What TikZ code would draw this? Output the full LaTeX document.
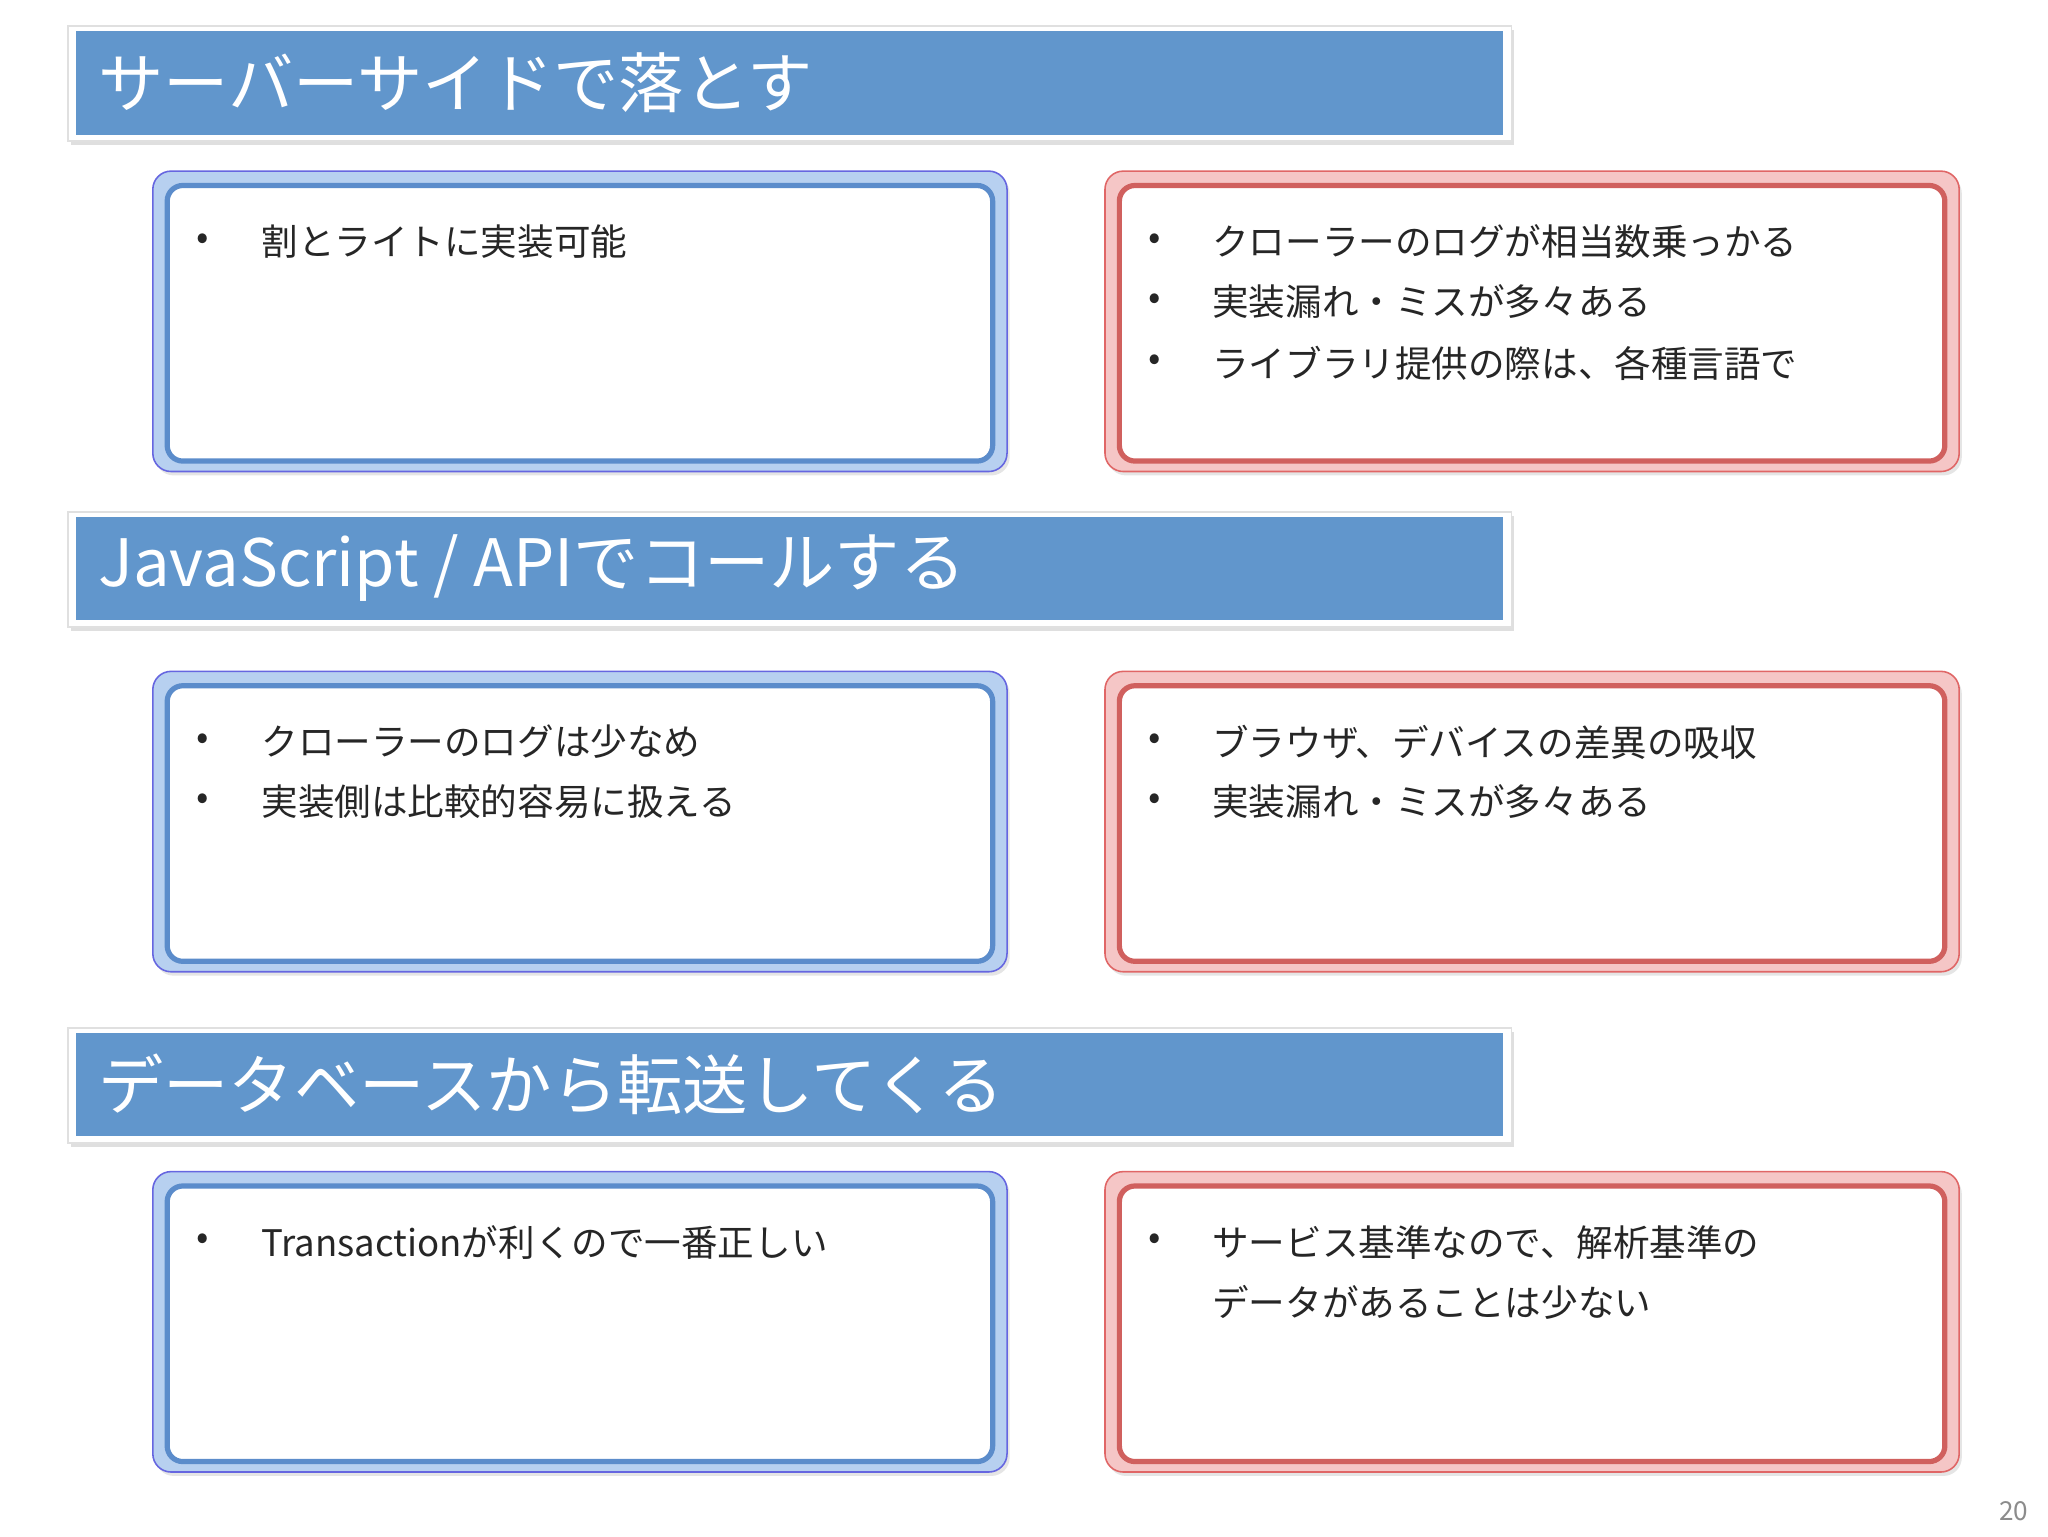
\documentclass[tikz,border=0pt]{standalone}
\usepackage{fontspec}
\setmainfont{Noto Sans CJK JP}
\usetikzlibrary{shadows}
\definecolor{hdr}{HTML}{6196CC}
\definecolor{bblue}{HTML}{5B8CCB}
\definecolor{lblue}{HTML}{B7D0F0}
\definecolor{bred}{HTML}{D0605E}
\definecolor{lred}{HTML}{F5C6C6}
\tikzset{
 hdrouter/.style={fill=white,draw=black!12,line width=1pt,drop shadow={opacity=0.25,shadow xshift=2pt,shadow yshift=-3pt}},
 hdrin/.style={fill=hdr},
 hdrtext/.style={anchor=west,text=white,font=\fontsize{50}{60}\selectfont,inner sep=0pt},
 outerb/.style={rounded corners=14pt,line width=1.2pt,draw=#1!80!black!60,fill=l#1,drop shadow={opacity=0.2,shadow xshift=2pt,shadow yshift=-3pt}},
 innerb/.style={rounded corners=12pt,line width=4pt,draw=b#1,fill=white},
 btext/.style={anchor=west,inner sep=0pt,font=\fontsize{28}{34}\selectfont,text=black!85},
}
\begin{document}
\begin{tikzpicture}[x=1pt,y=-1pt]
\useasboundingbox (0,0) rectangle (1568,1176);
\fill[white] (0,0) rectangle (1568,1176);
% headers
\foreach \y/\t [count=\i] in {20/{サーバーサイドで落とす},392/{JavaScript / APIでコールする},787/{データベースから転送してくる}}{
 \draw[hdrouter] (52,\y) rectangle (1157,\y+88);
 \fill[hdrin] (58,\y+4) rectangle (1151,\y+83);
 \node[hdrtext] (h\i) at (75,\y+43) {\t};
}
% boxes
\foreach \y [count=\i] in {131,514,897}{
 \draw[outerb=blue] (117,\y) rectangle (771,\y+230);
 \draw[innerb=blue] (128,\y+11) rectangle (760,\y+222);
 \draw[outerb=red] (846,\y) rectangle (1500,\y+230);
 \draw[innerb=red] (857,\y+11) rectangle (1489,\y+222);
}
% texts row 1
\node[btext] (a1) at (150,185) {•};
\node[btext] (a1t) at (200,185) {割とライトに実装可能};
\node[btext] (b1) at (879,185) {•};
\node[btext] (b1t) at (928,185) {クローラーのログが相当数乗っかる};
\node[btext] (b2) at (879,231) {•};
\node[btext] (b2t) at (928,231) {実装漏れ・ミスが多々ある};
\node[btext] (b3) at (879,278) {•};
\node[btext] (b3t) at (928,278) {ライブラリ提供の際は、各種言語で};
% row 2
\node[btext] (c1) at (150,568) {•};
\node[btext] (c1t) at (200,568) {クローラーのログは少なめ};
\node[btext] (c2) at (150,614) {•};
\node[btext] (c2t) at (200,614) {実装側は比較的容易に扱える};
\node[btext] (d1) at (879,568) {•};
\node[btext] (d1t) at (928,568) {ブラウザ、デバイスの差異の吸収};
\node[btext] (d2) at (879,614) {•};
\node[btext] (d2t) at (928,614) {実装漏れ・ミスが多々ある};
% row 3
\node[btext] (e1) at (150,951) {•};
\node[btext] (e1t) at (200,951) {Transactionが利くので一番正しい};
\node[btext] (f1) at (879,951) {•};
\node[btext] (f1t) at (928,951) {サービス基準なので、解析基準の};
\node[btext] (f2t) at (928,997) {データがあることは少ない};
\node[anchor=east,inner sep=0pt,text=black!45,font=\fontsize{20}{24}\selectfont] (pg) at (1553,1157) {20};
\end{tikzpicture}
\end{document}
